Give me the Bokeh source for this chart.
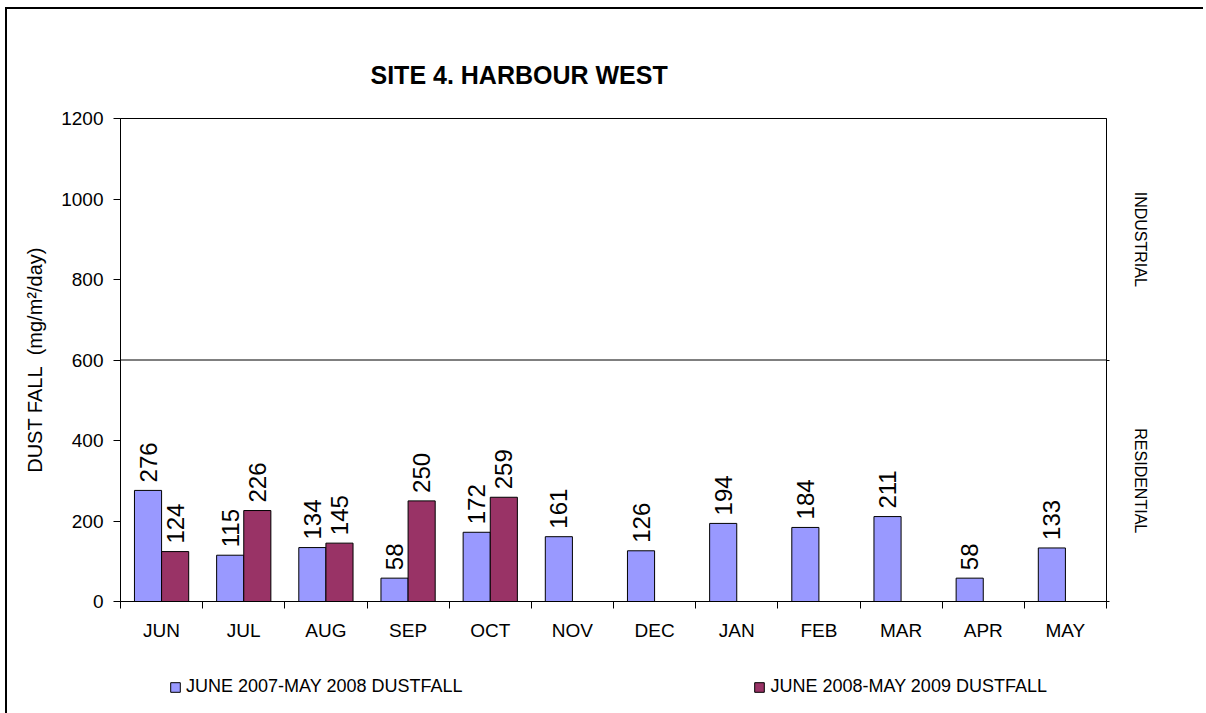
import math
from bokeh.plotting import figure
from bokeh.layouts import column
from bokeh.models import (Range1d, FixedTicker, LinearAxis, Span, Legend,
                          LegendItem, ColumnDataSource)
from bokeh.embed import file_html
from bokeh.resources import INLINE
from bokeh.core.properties import value

# ---- data ----
months = ["JUN", "JUL", "AUG", "SEP", "OCT", "NOV", "DEC", "JAN", "FEB", "MAR", "APR", "MAY"]
dust_0708 = [276, 115, 134, 58, 172, 161, 126, 194, 184, 211, 58, 133]
dust_0809 = [124, 226, 145, 250, 259]
y_ticks = [0, 200, 400, 600, 800, 1000, 1200]
title_text = "SITE 4. HARBOUR WEST"
series_names = ["JUNE 2007-MAY 2008 DUSTFALL", "JUNE 2008-MAY 2009 DUSTFALL"]
zone_labels = ["INDUSTRIAL", "RESIDENTIAL"]
zone_limit = 600
y_max = 1200

FONT = "Liberation Sans"
BAR_W = 0.33
BLUE = "#9999FF"
PLUM = "#993366"
W = 1196

p = figure(width=W, height=646, x_range=Range1d(0, len(months)), y_range=Range1d(0, y_max),
           output_backend="svg", toolbar_location=None,
           min_border_left=113, min_border_right=97, min_border_top=109, min_border_bottom=54)
p.background_fill_color = "white"
p.border_fill_color = "white"
p.outline_line_color = "black"
p.outline_line_width = 1
p.outline_line_alpha = 1
p.xgrid.visible = False
p.ygrid.visible = False

# title
p.title.text = title_text
p.title.align = "left"
p.title.offset = 250
p.title.standoff = 59
p.title.text_font = FONT
p.title.text_font_size = "25px"
p.title.text_font_style = "bold"
p.title.text_color = "black"

src1 = ColumnDataSource(dict(x=[i + 0.5 - BAR_W / 2 for i in range(len(dust_0708))],
                             top=dust_0708, label=[str(v) for v in dust_0708]))
src2 = ColumnDataSource(dict(x=[i + 0.5 + BAR_W / 2 for i in range(len(dust_0809))],
                             top=dust_0809, label=[str(v) for v in dust_0809]))

r1 = p.vbar(x="x", top="top", bottom=0, width=BAR_W, source=src1,
            fill_color=BLUE, line_color="black", line_width=1)
r2 = p.vbar(x="x", top="top", bottom=0, width=BAR_W, source=src2,
            fill_color=PLUM, line_color="black", line_width=1)

for src in (src1, src2):
    p.text(x="x", y="top", text="label", source=src, angle=math.pi / 2,
           text_align="left", text_baseline="middle", y_offset=-8,
           text_font=value(FONT), text_font_size="24px", text_color="black")

p.add_layout(Span(location=zone_limit, dimension="width", line_color="black", line_width=1))

# x axis: labels at centres, ticks at boundaries
xa = p.xaxis[0]
xa.ticker = FixedTicker(ticks=[i + 0.5 for i in range(len(months))],
                        minor_ticks=list(range(len(months) + 1)))
xa.major_label_overrides = {i + 0.5: m for i, m in enumerate(months)}
xa.major_tick_line_color = None
xa.major_tick_out = 0
xa.major_tick_in = 0
xa.minor_tick_out = 7
xa.minor_tick_in = 0
xa.minor_tick_line_color = "black"
xa.axis_line_color = "black"
xa.major_label_standoff = 11
xa.major_label_text_font = FONT
xa.major_label_text_font_size = "19px"
xa.major_label_text_color = "black"

ya = p.yaxis[0]
ya.ticker = FixedTicker(ticks=y_ticks, minor_ticks=[])
ya.major_tick_out = 7
ya.major_tick_in = 0
ya.major_tick_line_color = "black"
ya.axis_line_color = "black"
ya.major_label_standoff = 10
ya.major_label_text_font = FONT
ya.major_label_text_font_size = "19px"
ya.major_label_text_color = "black"
ya.axis_label = "DUST FALL\u00a0\u00a0(mg/m\u00b2/day)"
ya.axis_label_text_font = FONT
ya.axis_label_text_font_size = "20px"
ya.axis_label_text_font_style = "normal"
ya.axis_label_text_color = "black"
ya.axis_label_standoff = 12

# right axis: zone names at zone centres, small ticks at zone boundaries
zone_centres = [(zone_limit + y_max) / 2, zone_limit / 2]
ra = LinearAxis(ticker=FixedTicker(ticks=zone_centres, minor_ticks=[0, zone_limit]),
                major_tick_out=0, major_tick_in=0, major_tick_line_color=None,
                minor_tick_out=3, minor_tick_in=0, minor_tick_line_color="black",
                axis_line_color="black",
                major_label_overrides={c: n for c, n in zip(zone_centres, zone_labels)},
                major_label_orientation="parallel", major_label_standoff=22,
                major_label_text_font=FONT, major_label_text_font_size="16px",
                major_label_text_color="black")
p.add_layout(ra, "right")

# legend strip underneath (its own figure, so the legend is not clipped)
lg = figure(width=W, height=58, x_range=Range1d(0, 1), y_range=Range1d(0, 1),
            output_backend="svg", toolbar_location=None,
            x_axis_location=None, y_axis_location=None,
            min_border=0, min_border_left=0, min_border_right=0,
            min_border_top=0, min_border_bottom=0)
lg.outline_line_color = None
lg.xgrid.visible = False
lg.ygrid.visible = False
lg.background_fill_color = "white"
lg.border_fill_color = "white"
k1 = lg.vbar(x="x", top="top", width=BAR_W, source=src1, fill_color=BLUE,
             line_color="black", line_width=1, visible=False)
k2 = lg.vbar(x="x", top="top", width=BAR_W, source=src2, fill_color=PLUM,
             line_color="black", line_width=1, visible=False)

legend = Legend(items=[LegendItem(label=series_names[0], renderers=[k1]),
                       LegendItem(label=series_names[1], renderers=[k2])],
                orientation="horizontal", location=(49, 16),
                glyph_width=12, glyph_height=12, label_height=12, label_standoff=5,
                spacing=291, padding=0, margin=0, border_line_color=None,
                background_fill_alpha=0, inactive_fill_alpha=0, label_text_font=FONT,
                label_text_font_size="18px", label_text_color="black")
lg.add_layout(legend)

layout = column(p, lg, spacing=0)
layout.styles = {"margin": "7px 0 0 5px", "border-top": "2px solid black",
                 "border-left": "2px solid black"}

open("out.html", "w").write(file_html(layout, INLINE))
